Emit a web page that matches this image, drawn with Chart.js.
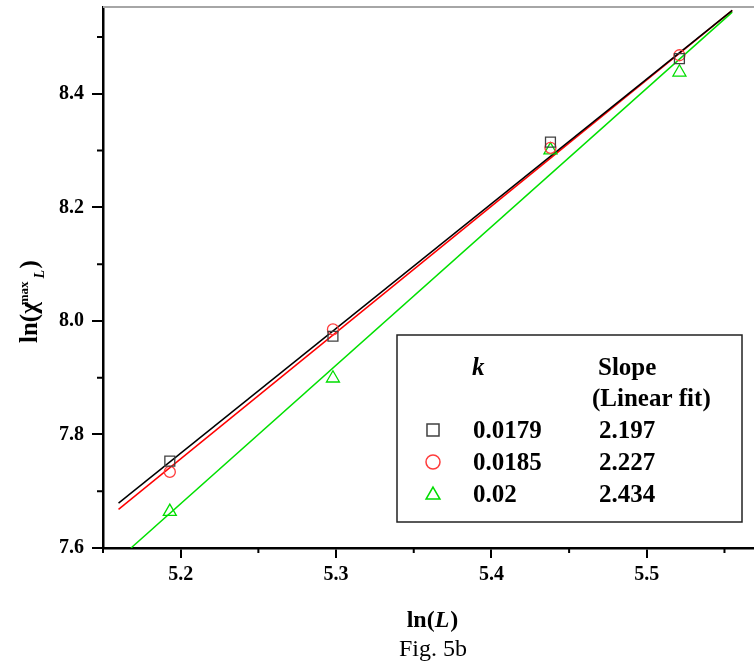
<!DOCTYPE html>
<html>
<head>
<meta charset="utf-8">
<script src="https://cdn.jsdelivr.net/npm/chart.js@4.4.0/dist/chart.umd.min.js"></script>
<style>
  body { margin: 0; background: #fff; }
  #wrap { width: 754px; height: 667px; position: relative; }
</style>
</head>
<body>
<div id="wrap"><canvas id="fig5b"></canvas></div>
<script>
// ln(L) for L = 180, 200, 230, 250
const lnL = [5.193, 5.298, 5.438, 5.521];
// ln(chi_max_L) for each k
const chiK0179 = [7.753, 7.973, 8.315, 8.462];
const chiK0185 = [7.734, 7.985, 8.305, 8.468];
const chiK02 = [7.664, 7.899, 8.301, 8.438];
// linear fit end points
const fitX = [5.160, 5.555];
const fitK0179 = [7.679, 8.547];
const fitK0185 = [7.668, 8.547];
const fitXk02 = [5.168, 5.555];
const fitK02 = [7.600, 8.544];

const kLabels = ['0.0179', '0.0185', '0.02'];
const slopeLabels = ['2.197', '2.227', '2.434'];

const xMajorTicks = [5.2, 5.3, 5.4, 5.5];
const xMinorTicks = [5.15, 5.25, 5.35, 5.45, 5.55];
const yMajorTicks = [7.6, 7.8, 8.0, 8.2, 8.4];
const yMinorTicks = [7.7, 7.9, 8.1, 8.3, 8.5];

const SERIF = '"Liberation Serif", "Times New Roman", serif';
const colors = ['#404040', '#ff3b3b', '#00dd00'];
const lineColors = ['#000000', '#ff0000', '#00e000'];
const styles = ['rect', 'circle', 'triangle'];

function pts(xs, ys) {
    return xs.map(function(v, i) { return { x: v, y: ys[i] }; });
}

function marker(ctx, style, radius, color, x, y) {
    ctx.strokeStyle = color;
    ctx.fillStyle = 'rgba(0,0,0,0)';
    Chart.helpers.drawPoint(ctx, { pointStyle: style, radius: radius, borderWidth: 1.4, rotation: 0 }, x, y);
}

// frame, minor ticks, axis titles and the k / slope table
const decor = {
    id: 'decor',
    afterDraw(chart) {
        const ctx = chart.ctx;
        const a = chart.chartArea;
        const xs = chart.scales.x, ys = chart.scales.y;
        ctx.save();

        ctx.strokeStyle = '#a6a6a6';
        ctx.lineWidth = 2;
        ctx.beginPath();
        ctx.moveTo(a.left, a.top);
        ctx.lineTo(a.right, a.top);
        ctx.stroke();

        ctx.strokeStyle = '#000';
        ctx.lineWidth = 2;
        ctx.beginPath();
        xMinorTicks.forEach(function(v) {
            const px = xs.getPixelForValue(v);
            ctx.moveTo(px, a.bottom);
            ctx.lineTo(px, a.bottom + 5);
        });
        yMinorTicks.forEach(function(v) {
            const py = ys.getPixelForValue(v);
            ctx.moveTo(a.left, py);
            ctx.lineTo(a.left - 6, py);
        });
        ctx.stroke();

        // x title: ln(L)
        ctx.fillStyle = '#000';
        ctx.textBaseline = 'alphabetic';
        ctx.font = 'bold 24px ' + SERIF;
        const w1 = ctx.measureText('ln(').width;
        const w3 = ctx.measureText(')').width;
        ctx.font = 'italic bold 24px ' + SERIF;
        const w2 = ctx.measureText('L').width;
        let sx = 432 - (w1 + w2 + w3) / 2;
        ctx.font = 'bold 24px ' + SERIF;
        ctx.fillText('ln(', sx, 627);
        ctx.font = 'italic bold 24px ' + SERIF;
        ctx.fillText('L', sx + w1, 627);
        ctx.font = 'bold 24px ' + SERIF;
        ctx.fillText(')', sx + w1 + w2 + 1, 627);

        ctx.font = '24px ' + SERIF;
        ctx.textAlign = 'center';
        ctx.fillText('Fig. 5b', 433, 656);
        ctx.textAlign = 'left';

        // y title: ln(chi^max_L)
        ctx.save();
        ctx.translate(37, 343);
        ctx.rotate(-Math.PI / 2);
        ctx.font = 'bold 25px ' + SERIF;
        ctx.fillText('ln(\u03c7', 0, 0);
        const wm = ctx.measureText('ln(\u03c7').width;
        ctx.font = 'bold 13px ' + SERIF;
        ctx.fillText('max', wm - 3, -9);
        const wmax = ctx.measureText('max').width;
        ctx.font = 'italic bold 14px ' + SERIF;
        ctx.fillText('L', wm - 3 + wmax + 3, 7);
        ctx.font = 'bold 25px ' + SERIF;
        ctx.fillText(')', wm - 3 + wmax + 13, 0);
        ctx.restore();

        // table box
        ctx.strokeStyle = '#222';
        ctx.lineWidth = 1.5;
        ctx.strokeRect(397, 335, 345, 187);
        ctx.fillStyle = '#000';
        ctx.font = 'italic bold 25px ' + SERIF;
        ctx.fillText('k', 472, 375);
        ctx.font = 'bold 25px ' + SERIF;
        ctx.fillText('Slope', 598, 375);
        ctx.fillText('(Linear fit)', 592, 406);
        const rowBase = [438, 470, 502];
        const markY = [430, 462, 495];
        const markR = [8.5, 7, 8];
        kLabels.forEach(function(k, i) {
            ctx.fillStyle = '#000';
            ctx.font = 'bold 25px ' + SERIF;
            ctx.fillText(k, 473, rowBase[i]);
            ctx.fillText(slopeLabels[i], 599, rowBase[i]);
            marker(ctx, styles[i], markR[i], colors[i], 433, markY[i]);
        });
        ctx.restore();
    }
};

new Chart(document.getElementById('fig5b'), {
    type: 'scatter',
    data: {
        datasets: [
            { label: '0.0179', data: pts(lnL, chiK0179), pointStyle: 'rect', pointRadius: 7,
              borderColor: colors[0], backgroundColor: 'rgba(0,0,0,0)', pointBorderWidth: 1.3 },
            { label: '0.0185', data: pts(lnL, chiK0185), pointStyle: 'circle', pointRadius: 5.5,
              borderColor: colors[1], backgroundColor: 'rgba(0,0,0,0)', pointBorderWidth: 1.3 },
            { label: '0.02', data: pts(lnL, chiK02), pointStyle: 'triangle', pointRadius: 7.5,
              borderColor: colors[2], backgroundColor: 'rgba(0,0,0,0)', pointBorderWidth: 1.3 },
            { label: 'fit 0.0179', data: pts(fitX, fitK0179), showLine: true, pointRadius: 0,
              borderColor: lineColors[0], borderWidth: 1.5 },
            { label: 'fit 0.0185', data: pts(fitX, fitK0185), showLine: true, pointRadius: 0,
              borderColor: lineColors[1], borderWidth: 1.5 },
            { label: 'fit 0.02', data: pts(fitXk02, fitK02), showLine: true, pointRadius: 0,
              borderColor: lineColors[2], borderWidth: 1.5 }
        ]
    },
    options: {
        responsive: true,
        maintainAspectRatio: false,
        animation: false,
        layout: { autoPadding: false, padding: { top: 7, right: 0, left: 0, bottom: 0 } },
        plugins: { legend: { display: false }, tooltip: { enabled: false } },
        scales: {
            x: {
                type: 'linear',
                min: 5.150,
                max: 5.569,
                afterBuildTicks: function(scale) {
                    scale.ticks = xMajorTicks.map(function(v) { return { value: v }; });
                },
                afterFit: function(scale) {
                    scale.height = 119;
                    scale.paddingLeft = 0;
                    scale.paddingRight = 0;
                },
                grid: { drawOnChartArea: false, drawTicks: true, tickLength: 10, color: '#000', lineWidth: 2 },
                border: { color: '#000', width: 2.5 },
                ticks: {
                    padding: 5,
                    color: '#000',
                    font: { family: SERIF, size: 20, weight: 'bold' },
                    callback: function(v) { return Number(v).toFixed(1); }
                }
            },
            y: {
                type: 'linear',
                min: 7.6,
                max: 8.553,
                afterBuildTicks: function(scale) {
                    scale.ticks = yMajorTicks.map(function(v) { return { value: v }; });
                },
                afterFit: function(scale) {
                    scale.width = 103;
                    scale.paddingTop = 0;
                    scale.paddingBottom = 0;
                },
                grid: { drawOnChartArea: false, drawTicks: true, tickLength: 11, color: '#000', lineWidth: 2 },
                border: { color: '#000', width: 2.5 },
                ticks: {
                    padding: 8,
                    color: '#000',
                    font: { family: SERIF, size: 20, weight: 'bold' },
                    callback: function(v) { return Number(v).toFixed(1); }
                }
            }
        }
    },
    plugins: [decor]
});
</script>
</body>
</html>
